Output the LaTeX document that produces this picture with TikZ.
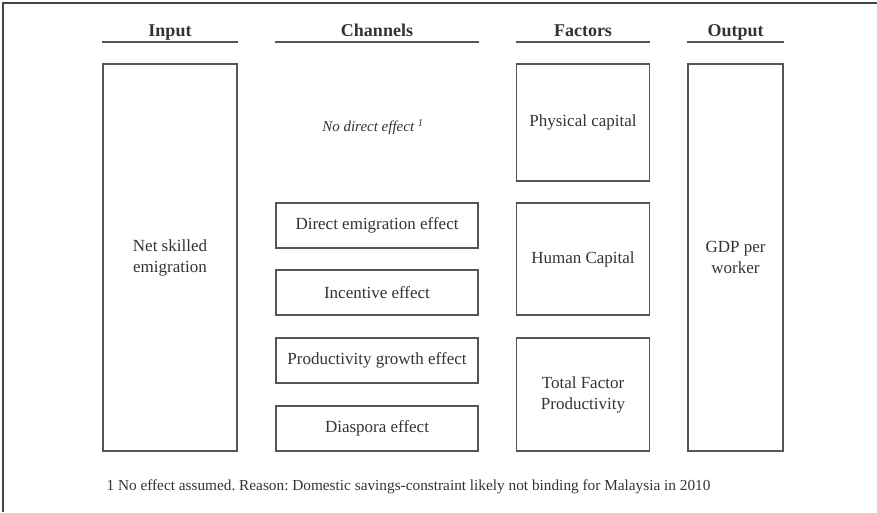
\documentclass[tikz,border=0pt]{standalone}
\usepackage{fontspec}
\setmainfont{Liberation Serif}
\frenchspacing
\definecolor{boxline}{HTML}{555555}
\definecolor{txt}{HTML}{333333}
\tikzset{
  box/.style={rectangle, draw=boxline, line width=1.5pt, align=center, text=txt,
    font=\fontsize{17}{21}\selectfont, inner sep=0pt},
  chanbox/.style={box, minimum width=202, minimum height=45},
  facbox/.style={box, minimum width=133},
  head/.style={anchor=south, inner sep=1pt, text depth=4pt, text=txt,
    font=\fontsize{18}{21}\selectfont\bfseries},
  rule/.style={draw=boxline, line width=1.8pt},
  frame/.style={draw=boxline!80!black, line width=1.5pt},
}
\begin{document}
\begin{tikzpicture}[x=1pt,y=-1pt]
        \useasboundingbox (0,0) rectangle (877,512);
        \draw[frame] (3,512) -- (3,3) -- (877,3);

        \node[box, minimum width=134, minimum height=387] (input) at(170,257.5){Net skilled\\emigration};
        \node[box, minimum width=95, minimum height=387] (output) at(735.5,257.5){GDP per\\worker};

        \node[text=txt, font=\fontsize{15}{18}\selectfont\itshape] (nodirect) at(373,127){No direct effect \textsuperscript{1}};
        \node[chanbox] (direct) at(377,225.5){Direct emigration effect};
        \node[chanbox] (incentive) at(377,292.5){Incentive effect};
        \node[chanbox] (prodgrowth) at(377,360.5){Productivity growth effect};
        \node[chanbox] (diaspora) at(377,428.5){Diaspora effect};

        \node[facbox, minimum height=117] (physcap) at(583,122.5){Physical capital};
        \node[facbox, minimum height=112] (humancap) at(583,259){Human Capital};
        \node[facbox, minimum height=113] (tfp) at(583,394.5){Total Factor\\Productivity};

        \node[head] (input-head) at(170,42){Input};
        \node[head] (chan-head) at(377,42){Channels};
        \node[head] (fac-head) at(583,42){Factors};
        \node[head] (output-head) at(735.5,42){Output};

        \draw[rule] (input.west |- input-head.south) -- (input.east |- input-head.south);
        \draw[rule] (direct.west |- chan-head.south) -- (direct.east |- chan-head.south);
        \draw[rule] (physcap.west |- fac-head.south) -- (physcap.east |- fac-head.south);
        \draw[rule] (output.west |- output-head.south) -- (output.east |- output-head.south);

        \node[anchor=west, text=txt, font=\fontsize{15.3}{18}\selectfont] (footnote) at(103,487){1 No effect assumed. Reason: Domestic savings-constraint likely not binding for Malaysia in 2010};
\end{tikzpicture}
\end{document}
